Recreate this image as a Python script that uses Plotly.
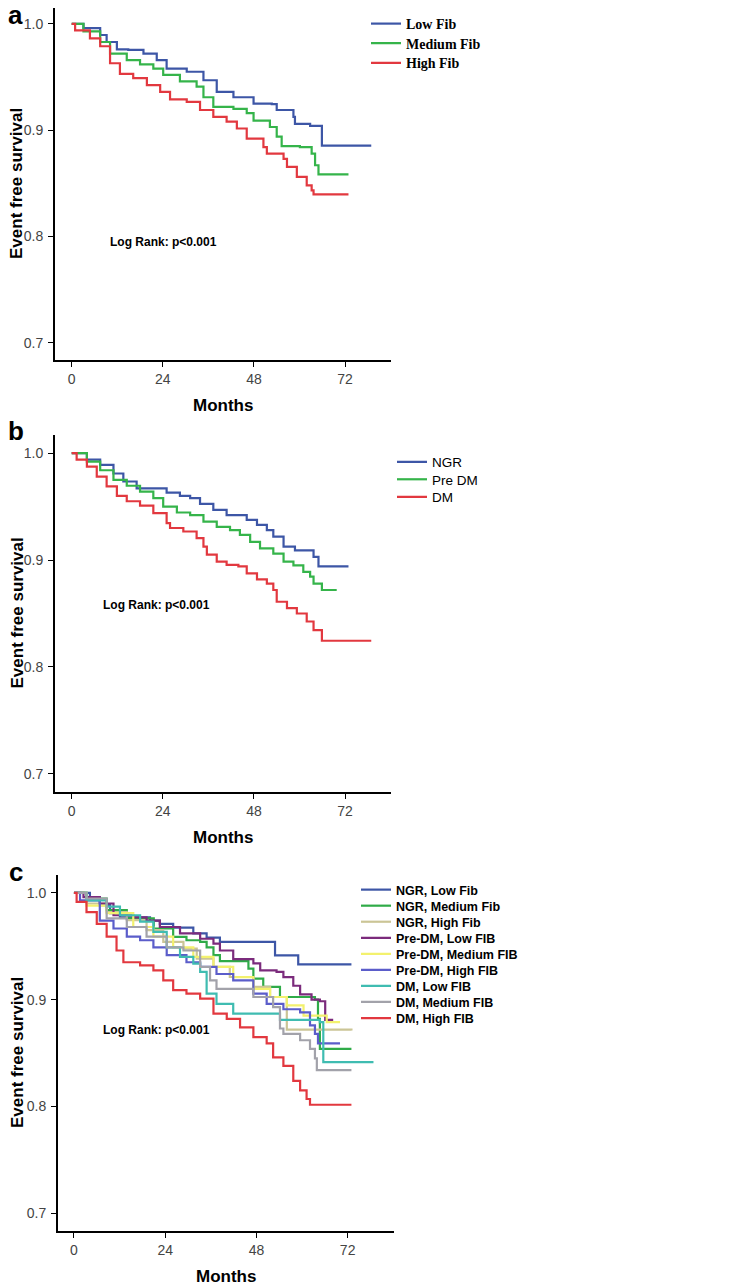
import plotly.graph_objects as go

# the page body keeps its default 8px margin, so the figure is 8px smaller
OFF = 8
W, H = 737 - OFF, 1287 - OFF

# ---- panel a: fibrinogen groups (months, survival at each step) ----
a_low_t = [0, 3.1, 7.5, 9.2, 11.9, 14.9, 18.9, 22.4, 25, 30.3, 34.7, 38.2, 42.6, 47.9, 52.7, 54, 58.4, 58.8, 62.8, 65.9, 78.9]
a_low_s = [1.0, 0.996, 0.9896, 0.983, 0.976, 0.9755, 0.972, 0.966, 0.958, 0.955, 0.947, 0.936, 0.931, 0.925, 0.9245, 0.919, 0.9125, 0.906, 0.904, 0.8855, 0.8855]
a_med_t = [0, 3.1, 7.5, 10.1, 14.5, 18, 21.5, 24.1, 28.5, 32.9, 34.7, 37.3, 42.6, 46.1, 47.9, 52.2, 54, 55.3, 60.1, 63.2, 64.1, 65, 72.9]
a_med_s = [1.0, 0.993, 0.983, 0.972, 0.966, 0.962, 0.958, 0.952, 0.946, 0.941, 0.931, 0.922, 0.920, 0.916, 0.909, 0.903, 0.894, 0.885, 0.884, 0.878, 0.867, 0.8585, 0.8585]
a_high_t = [0, 0.9, 4.8, 7.5, 10.1, 12.7, 16.2, 19.8, 23.3, 25.9, 30.3, 33.8, 37.3, 40.8, 43.5, 46.1, 50.5, 51.4, 55.8, 56.7, 59.3, 61.9, 63.2, 63.7, 72.9]
a_high_s = [1.0, 0.994, 0.9865, 0.979, 0.963, 0.953, 0.949, 0.9425, 0.936, 0.929, 0.9267, 0.919, 0.9126, 0.908, 0.9016, 0.892, 0.884, 0.878, 0.873, 0.8654, 0.856, 0.848, 0.8434, 0.8396, 0.8396]

# ---- panel b: glucose metabolism status ----
b_ngr_t = [0, 4, 7.5, 11, 13.6, 17.1, 22.4, 25, 28.5, 31.2, 33.8, 37.3, 40.8, 46.1, 48.8, 51.4, 53.1, 55.8, 58.8, 63.7, 65, 72.9]
b_ngr_s = [1.0, 0.994, 0.989, 0.981, 0.9735, 0.967, 0.967, 0.963, 0.960, 0.958, 0.9525, 0.947, 0.942, 0.9375, 0.933, 0.928, 0.922, 0.9125, 0.909, 0.903, 0.894, 0.894]
b_pre_t = [0, 4, 7.5, 11, 14.5, 18, 21.5, 24.1, 27.7, 31.2, 34.7, 38.2, 41.7, 44.3, 47, 49.6, 53.1, 55.8, 58.4, 61, 62.8, 63.7, 65.9, 69.8]
b_pre_s = [1.0, 0.992, 0.984, 0.975, 0.9695, 0.964, 0.958, 0.950, 0.9445, 0.942, 0.936, 0.931, 0.928, 0.9235, 0.917, 0.911, 0.906, 0.8985, 0.895, 0.889, 0.8845, 0.878, 0.872, 0.872]
b_dm_t = [0, 1.3, 4, 6.6, 9.2, 11.9, 14.5, 18, 21.5, 25, 25.9, 29.4, 32.9, 34.7, 35.6, 38.2, 40.8, 43.9, 46.1, 48.8, 51.4, 53.1, 54, 56.7, 59.3, 61.9, 63.7, 65.9, 78.9]
b_dm_s = [1.0, 0.994, 0.9875, 0.978, 0.969, 0.960, 0.955, 0.951, 0.944, 0.9345, 0.930, 0.9267, 0.9205, 0.9125, 0.905, 0.8985, 0.8955, 0.894, 0.8875, 0.882, 0.878, 0.872, 0.861, 0.855, 0.850, 0.8425, 0.8345, 0.8245, 0.8245]

# ---- panel c: combined groups ----
c_ngr_low_t = [0, 4.2, 6.8, 9.5, 12.1, 20, 22.6, 26.1, 31.4, 34.9, 38.4, 52.9, 59, 73]
c_ngr_low_s = [1.0, 0.996, 0.9885, 0.981, 0.977, 0.974, 0.971, 0.9675, 0.962, 0.958, 0.954, 0.9415, 0.933, 0.933]
c_ngr_med_t = [0, 3.3, 8.6, 13.9, 21, 26.1, 29.6, 33.2, 34.9, 36.7, 38.4, 45.9, 47.2, 49.8, 54.2, 63.4, 64.2, 64.7, 73]
c_ngr_med_s = [1.0, 0.9947, 0.9838, 0.976, 0.9666, 0.9587, 0.9556, 0.954, 0.949, 0.9416, 0.936, 0.929, 0.9197, 0.912, 0.9025, 0.900, 0.882, 0.854, 0.854]
c_ngr_high_t = [0, 3.3, 8.6, 13.9, 19.1, 23.5, 28.8, 32.3, 36.7, 41, 47.2, 51.6, 56, 73]
c_ngr_high_s = [1.0, 0.99, 0.982, 0.9744, 0.965, 0.954, 0.9478, 0.9384, 0.9306, 0.9212, 0.912, 0.9025, 0.872, 0.871]
c_pre_low_t = [0, 2.5, 6.8, 10.4, 15.6, 19.1, 22.6, 27.9, 33.2, 36.7, 38.4, 41.9, 47.2, 49, 53.3, 55.1, 57.7, 59.5, 62.5, 64.7, 66.1, 68.2]
c_pre_low_s = [1.0, 0.996, 0.99, 0.979, 0.977, 0.974, 0.968, 0.962, 0.957, 0.9525, 0.946, 0.938, 0.934, 0.9275, 0.926, 0.921, 0.913, 0.905, 0.900, 0.8985, 0.881, 0.881]
c_pre_med_t = [0, 3.3, 8.6, 15.6, 20.9, 26.1, 31.4, 36.7, 41.9, 47.2, 51.6, 56, 60.4, 66.5, 70]
c_pre_med_s = [1.0, 0.988, 0.981, 0.968, 0.959, 0.949, 0.940, 0.9306, 0.921, 0.910, 0.9025, 0.8947, 0.885, 0.879, 0.879]
c_pre_high_t = [0, 1.6, 6.8, 10.4, 13.9, 17.4, 20.9, 24.4, 29.6, 33.2, 37.5, 41.9, 47.2, 50.7, 55.1, 59.5, 62.1, 63.4, 64.2, 70]
c_pre_high_s = [1.0, 0.993, 0.974, 0.9666, 0.959, 0.9556, 0.949, 0.9416, 0.935, 0.9306, 0.924, 0.918, 0.9056, 0.896, 0.891, 0.888, 0.876, 0.868, 0.859, 0.859]
c_dm_low_t = [0, 3.3, 8.6, 12.1, 17.4, 20.9, 24.4, 27.9, 31.4, 33.2, 34.9, 37.5, 41.9, 52.4, 54.2, 64.7, 65.6, 78.8]
c_dm_low_s = [1.0, 0.993, 0.987, 0.979, 0.973, 0.9634, 0.949, 0.940, 0.9337, 0.926, 0.9056, 0.896, 0.887, 0.887, 0.881, 0.879, 0.8416, 0.8416]
c_dm_med_t = [0, 3.3, 8.6, 13.9, 19.1, 24.4, 28.8, 33.2, 35.8, 37.5, 45.4, 47.2, 52.4, 54.2, 55.1, 59.5, 62.1, 63.4, 63.9, 73]
c_dm_med_s = [1.0, 0.9947, 0.976, 0.968, 0.959, 0.949, 0.946, 0.9306, 0.918, 0.910, 0.910, 0.9025, 0.893, 0.873, 0.868, 0.862, 0.854, 0.845, 0.834, 0.834]
c_dm_high_t = [0, 0.7, 3.3, 6, 8.6, 11.2, 13, 17.4, 20.9, 23.5, 26.1, 29.6, 33.2, 36.7, 40.2, 43.7, 47.2, 50.7, 52.4, 55.1, 57.7, 59.5, 61.2, 62.1, 73]
c_dm_high_s = [1.0, 0.9916, 0.982, 0.971, 0.959, 0.946, 0.935, 0.932, 0.9275, 0.918, 0.909, 0.9056, 0.901, 0.887, 0.882, 0.874, 0.865, 0.859, 0.846, 0.838, 0.824, 0.815, 0.807, 0.8016, 0.8016]

x_ticks = [0, 24, 48, 72]
y_ticks = [0.7, 0.8, 0.9, 1.0]

BLUE, GREEN, RED = "#3d56a6", "#35b44a", "#e2383f"

panels = [
    [("Low Fib", a_low_t, a_low_s, BLUE),
     ("Medium Fib", a_med_t, a_med_s, GREEN),
     ("High Fib", a_high_t, a_high_s, RED)],
    [("NGR", b_ngr_t, b_ngr_s, BLUE),
     ("Pre DM", b_pre_t, b_pre_s, GREEN),
     ("DM", b_dm_t, b_dm_s, RED)],
    [("NGR, Low Fib", c_ngr_low_t, c_ngr_low_s, "#3d56a6"),
     ("NGR, Medium Fib", c_ngr_med_t, c_ngr_med_s, "#2fab48"),
     ("NGR, High Fib", c_ngr_high_t, c_ngr_high_s, "#cbc596"),
     ("Pre-DM, Low FIB", c_pre_low_t, c_pre_low_s, "#7b2b7c"),
     ("Pre-DM, Medium FIB", c_pre_med_t, c_pre_med_s, "#f3f16e"),
     ("Pre-DM, High FIB", c_pre_high_t, c_pre_high_s, "#5b5dca"),
     ("DM, Low FIB", c_dm_low_t, c_dm_low_s, "#3fbcb1"),
     ("DM, Medium FIB", c_dm_med_t, c_dm_med_s, "#a2a2aa"),
     ("DM, High FIB", c_dm_high_t, c_dm_high_s, "#e2383f")],
]


def px(x):
    return (x - OFF) / W


def py(y):
    return 1 - (y - OFF) / H


# pixel boxes of the three plot areas in the 737x1287 window (left, right, top, bottom)
boxes = [(55, 391, 8, 360), (55, 391, 435, 792), (58, 394, 875, 1231)]
xranges = [[-4.4, 84.1], [-4.4, 84.1], [-4.2, 84.2]]
yranges = [[0.6837, 1.015], [0.683, 1.017], [0.6834, 1.0167]]

# legend look per panel: text start x, first entry centre y, row step, font
leg_fonts = [dict(family="Liberation Serif", size=14, color="black"),
             dict(family="Liberation Sans", size=13.5, color="black"),
             dict(family="Liberation Sans", size=12.5, color="black")]
leg_pos = [(407, 24, 19.6), (433, 462, 17.5), (397, 890, 16.05)]
leg_bold = [True, False, True]

fig = go.Figure()
legends = {}
n = 1
for i, group in enumerate(panels):
    sfx = "" if i == 0 else str(i + 1)
    tx, ty, step = leg_pos[i]
    for k, (name, t, s, col) in enumerate(group):
        n += 1
        lid = "legend%d" % n
        label = "<b>%s</b>" % name if leg_bold[i] else name
        fig.add_trace(go.Scatter(x=t, y=s, name=label, mode="lines", line_shape="hv",
                                 line=dict(color=col, width=2.2), xaxis="x" + sfx, yaxis="y" + sfx,
                                 legend=lid))
        legends[lid] = dict(x=px(tx - 41), y=py(ty + k * step), xanchor="left", yanchor="middle",
                            font=leg_fonts[i], bgcolor="rgba(0,0,0,0)", borderwidth=0)

ax_common = dict(showline=True, linecolor="black", linewidth=2, showgrid=False, zeroline=False,
                 ticks="outside", ticklen=5, tickcolor="black", tickwidth=1.3, automargin=False,
                 tickfont=dict(family="Liberation Sans", size=14, color="#444444"))
for i, (l, r, t, b) in enumerate(boxes):
    sfx = "" if i == 0 else str(i + 1)
    fig.layout["xaxis" + sfx] = dict(ax_common, domain=[px(l), px(r)], range=xranges[i],
                                     tickvals=x_ticks, anchor="y" + sfx, ticklabelstandoff=0)
    fig.layout["yaxis" + sfx] = dict(ax_common, domain=[py(b), min(1, py(t))], range=yranges[i],
                                     tickvals=y_ticks, tickformat=".1f", anchor="x" + sfx,
                                     ticklabelstandoff=2)

title_font = dict(family="Liberation Sans", size=17, color="black")
letters = ["a", "b", "c"]
letter_y = [15, 431, 872]
centre = dict(xref="paper", yref="paper", showarrow=False, xanchor="center", yanchor="middle")
ann = []
for i, (l, r, t, b) in enumerate(boxes):
    ann.append(dict(centre, text="<b>Event free survival</b>", x=px(17), y=py((t + b) / 2),
                    textangle=-90, font=title_font))
    ann.append(dict(centre, text="<b>Months</b>", x=px(l + 168), y=py(b + 45), font=title_font))
    ann.append(dict(centre, text="<b>%s</b>" % letters[i], x=px(16), y=py(letter_y[i]),
                    font=dict(family="Liberation Sans", size=26, color="black")))
log_pos = [(163, 242), (156, 605), (156, 1030)]
for xx, yy in log_pos:
    ann.append(dict(centre, text="<b>Log Rank: p<0.001</b>", x=px(xx), y=py(yy),
                    font=dict(family="Liberation Sans", size=12, color="black")))

fig.update_layout(
    width=W, height=H, margin=dict(l=0, r=0, t=0, b=0, autoexpand=False),
    paper_bgcolor="white", plot_bgcolor="white", showlegend=True,
    annotations=ann,
    **legends,
)

fig.write_html("out.html")
